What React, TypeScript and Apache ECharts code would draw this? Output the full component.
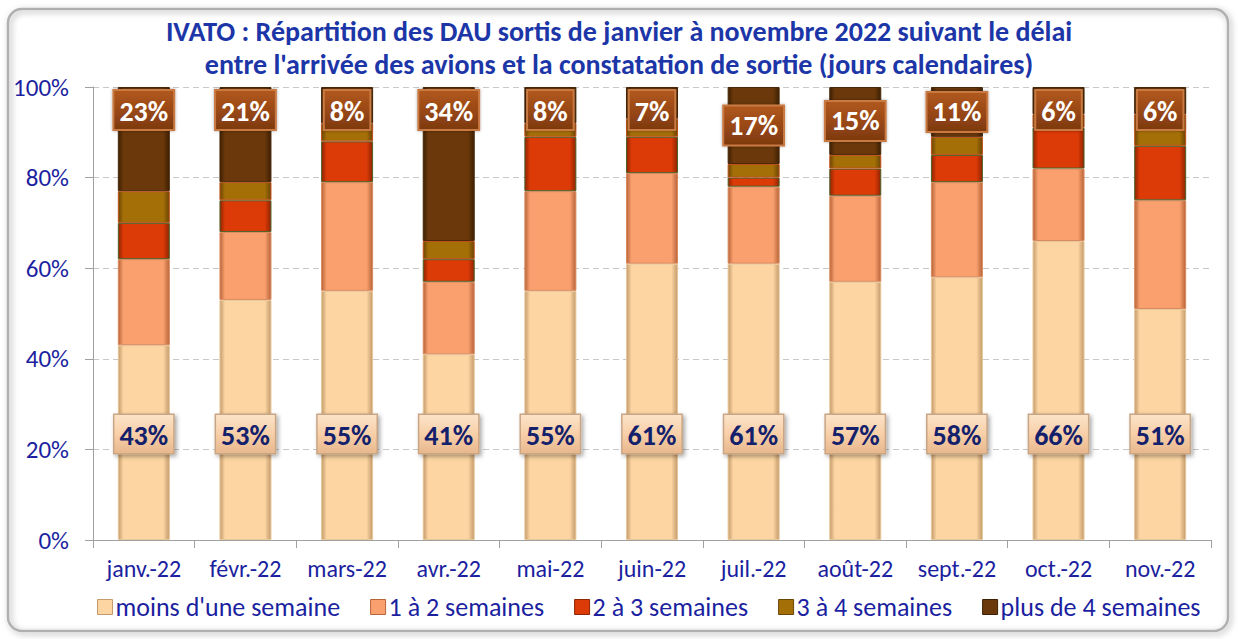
import React, { useEffect, useRef } from "react";
import * as echarts from "echarts";

const categories = ["janv.-22", "févr.-22", "mars-22", "avr.-22", "mai-22", "juin-22", "juil.-22", "août-22", "sept.-22", "oct.-22", "nov.-22"];
const seriesNames = ["moins d'une semaine", "1 à 2 semaines", "2 à 3 semaines", "3 à 4 semaines", "plus de 4 semaines"];
const moinsUneSemaine = [43, 53, 55, 41, 55, 61, 61, 57, 58, 66, 51];
const unADeuxSemaines = [19, 15, 24, 16, 22, 20, 17, 19, 21, 16, 24];
const deuxATroisSemaines = [8, 7, 9, 5, 12, 8, 2, 6, 6, 9, 12];
const troisAQuatreSemaines = [7, 4, 4, 4, 3, 4, 3, 3, 4, 3, 7];
const plusDeQuatreSemaines = [23, 21, 8, 34, 8, 7, 17, 15, 11, 6, 6];
const yTicks = [0, 20, 40, 60, 80, 100];

const NAVY = "#1B1FA0";
const TITLE = "#1C36A8";
const FONT = "Carlito, Lato, 'Open Sans', sans-serif";

const faces = ["#FCD5A2", "#F9A06E", "#DC3A06", "#A56F08", "#6A380A"];
const edges = ["#C49A6C", "#B8643A", "#8E2503", "#6A4503", "#3E2004"];
const borders = ["#E8C79A", "#D98A5D", "#4F6228", "#C0501A", "#4A2808"];

function bevel(i: number) {
  return new echarts.graphic.LinearGradient(0, 0, 1, 0, [
    { offset: 0, color: edges[i] },
    { offset: 0.1, color: faces[i] },
    { offset: 0.88, color: faces[i] },
    { offset: 1, color: edges[i] },
  ]);
}

export default function App() {
  const ref = useRef<HTMLDivElement>(null);
  useEffect(() => {
    document.body.style.margin = "0";
    if (!ref.current) return;
    const chart = echarts.init(ref.current, undefined, { renderer: "svg" });
    const dataSets = [moinsUneSemaine, unADeuxSemaines, deuxATroisSemaines, troisAQuatreSemaines, plusDeQuatreSemaines];
    const pxPerPct = 453 / 100;
    const series = dataSets.map((arr, i) => {
      const base: any = {
        name: seriesNames[i],
        type: "bar",
        stack: "total",
        barWidth: 52,
        itemStyle: { color: bevel(i), borderColor: borders[i], borderWidth: 1 },
        emphasis: { disabled: true },
        data: arr,
      };
      if (i === 0) {
        base.label = {
          show: true,
          position: "insideBottom",
          distance: 87,
          formatter: "{c}%",
          fontFamily: FONT,
          fontSize: 28,
          fontWeight: "bold",
          color: "#13206B",
          backgroundColor: new echarts.graphic.LinearGradient(0, 0, 0, 1, [
            { offset: 0, color: "#FBE3C8" },
            { offset: 0.5, color: "#F8CFA8" },
            { offset: 1, color: "#E8B88E" },
          ]),
          borderColor: "#C8A584",
          borderWidth: 1.5,
          padding: [6, 5, 4, 5],
          shadowColor: "rgba(0,0,0,0.35)",
          shadowBlur: 4,
          shadowOffsetX: 2,
          shadowOffsetY: 2,
        };
      }
      if (i === 4) {
        base.data = arr.map((v) => {
          const half = (v * pxPerPct) / 2;
          const useTop = half < 24 || v >= 20;
          return {
            value: v,
            label: useTop ? { position: "insideTop", distance: 4 } : { position: "inside" },
          };
        });
        base.label = {
          show: true,
          formatter: "{c}%",
          fontFamily: FONT,
          fontSize: 28,
          fontWeight: "bold",
          color: "#FFFFFF",
          backgroundColor: new echarts.graphic.LinearGradient(0, 0, 0, 1, [
            { offset: 0, color: "#B0581E" },
            { offset: 0.5, color: "#9A4815" },
            { offset: 1, color: "#7E3A10" },
          ]),
          borderColor: "#C97A42",
          borderWidth: 2,
          padding: [6, 5, 4, 5],
          shadowColor: "rgba(0,0,0,0.35)",
          shadowBlur: 3,
        };
      }
      return base;
    });
    chart.setOption({
      animation: false,
      backgroundColor: "#FFFFFF",
      title: {
        text: "IVATO : Répartition des DAU sortis de janvier à novembre 2022 suivant le délai\nentre l'arrivée des avions et la constatation de sortie (jours calendaires)",
        left: "center",
        top: 10,
        textStyle: {
          fontFamily: FONT,
          fontSize: 28,
          fontWeight: "bold",
          color: TITLE,
          lineHeight: 33,
        },
      },
      graphic: [
        {
          type: "rect",
          shape: { x: 8, y: 9, width: 1220, height: 622, r: 14 },
          style: { fill: "none", stroke: "#B0B0B0", lineWidth: 2.5, shadowColor: "rgba(0,0,0,0.35)", shadowBlur: 6, shadowOffsetX: 2, shadowOffsetY: 2 },
          silent: true,
          z: -1,
        },
      ],
      legend: {
        bottom: 14,
        left: 92,
        itemWidth: 15,
        itemHeight: 15,
        itemGap: 30,
        icon: "rect",
        textStyle: { fontFamily: FONT, fontSize: 26, color: NAVY, padding: [0, 0, 0, -2] },
        data: seriesNames.map((n, i) => ({ name: n, itemStyle: { color: faces[i], borderColor: edges[i], borderWidth: 1 } })),
      },
      grid: { left: 93, right: 27, top: 87, bottom: 99 },
      xAxis: {
        type: "category",
        data: categories,
        axisLine: { lineStyle: { color: "#A0A0A0" } },
        axisTick: { show: true, length: 8, interval: 0, lineStyle: { color: "#A0A0A0" } },
        axisLabel: { fontFamily: FONT, fontSize: 24, color: NAVY, margin: 16, interval: 0 },
        splitLine: { show: false },
      },
      yAxis: {
        type: "value",
        min: 0,
        max: 100,
        interval: 20,
        axisLine: { show: true, lineStyle: { color: "#A0A0A0" } },
        axisTick: { show: true, length: 8, lineStyle: { color: "#A0A0A0" } },
        axisLabel: {
          fontFamily: FONT,
          fontSize: 25,
          color: NAVY,
          margin: 24,
          formatter: (v: number) => (yTicks.includes(v) ? v + "%" : ""),
        },
        splitLine: { lineStyle: { color: "#C8C8C8", type: [6, 4] } },
      },
      series,
    });
    return () => chart.dispose();
  }, []);
  return <div ref={ref} style={{ width: 1238, height: 639 }} />;
}
